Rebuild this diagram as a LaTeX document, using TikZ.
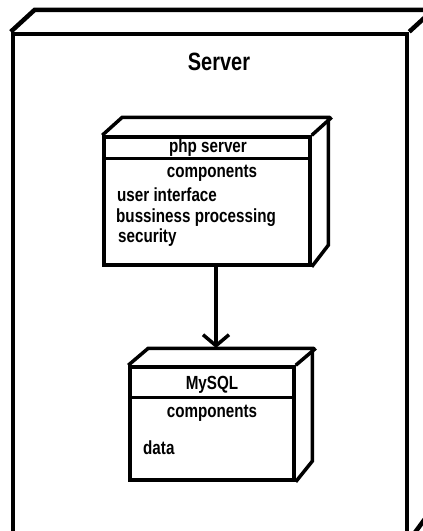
\documentclass[tikz,border=0pt]{standalone}
\usepackage{fontspec}
\setmainfont{Liberation Sans}[FakeStretch=0.8]
\usetikzlibrary{positioning,arrows.meta}

\tikzset{
  nodebox/.style={draw, line width=3.5pt, inner sep=0pt, fill=white},
  edge3d/.style={line width=3.5pt},
  title/.style={font=\bfseries\fontsize{25}{28}\selectfont, inner sep=0pt},
  item/.style={font=\bfseries\fontsize{19}{22}\selectfont, inner sep=0pt},
}

\begin{document}
\begin{tikzpicture}[x=1pt,y=-1pt]

    \useasboundingbox (0,0) rectangle (423,531);
    \begin{scope}
    \clip (0,0) rectangle (423,531);

    % the server node
    \node[nodebox, line width=4.5pt, minimum width=394pt, minimum height=504pt] (server) at (210,286) {};
    \draw[line width=4.5pt] (server.north west) -- ++(24,-22) -- ++(394,0) -- ++(0,504) -- (server.south east);
    \draw[line width=4.5pt] (server.north east) -- ++(24,-22);
    \node[title] (servername) at (219,62) {Server};

    % php server
    \node[nodebox, minimum width=206pt, minimum height=128pt] (php) at (207,201) {};
    \draw[edge3d] (php.north west) -- ++(20,-18) -- ++(206,0) -- ++(0,128) -- (php.south east);
    \draw[edge3d] (php.north east) -- ++(20,-18);
    \draw[edge3d] ([yshift=-23pt]php.north west) -- ([yshift=-23pt]php.north east);
    \node[item] (phpname) at (208,148) {php server};
    \node[item] (phpcomp) at (212,173) {components};
    \node[item, anchor=west] (ui) at (117,195) {user interface};
    \node[item, anchor=west] (bp) at (116,218) {bussiness processing};
    \node[item, anchor=west] (sec) at (118,238) {security};

    % mysql
    \node[nodebox, minimum width=164pt, minimum height=113pt] (db) at (212,423.5) {};
    \draw[edge3d] (db.north west) -- ++(20,-17) -- ++(164,0) -- ++(0,113) -- (db.south east);
    \draw[edge3d] (db.north east) -- ++(20,-17);
    \draw[edge3d] ([yshift=-32pt]db.north west) -- ([yshift=-32pt]db.north east);
    \node[item] (dbname) at (212,385) {MySQL};
    \node[item] (dbcomp) at (212,413) {components};
    \node[item, anchor=west] (data) at (143,448) {data};

    % connector
    \coordinate (dbtop) at (216,348);
    \draw[line width=3.5pt, -{Straight Barb[length=11pt,width=26pt]}] (php.south -| dbtop) -- (dbtop);

    \end{scope}
\end{tikzpicture}
\end{document}
